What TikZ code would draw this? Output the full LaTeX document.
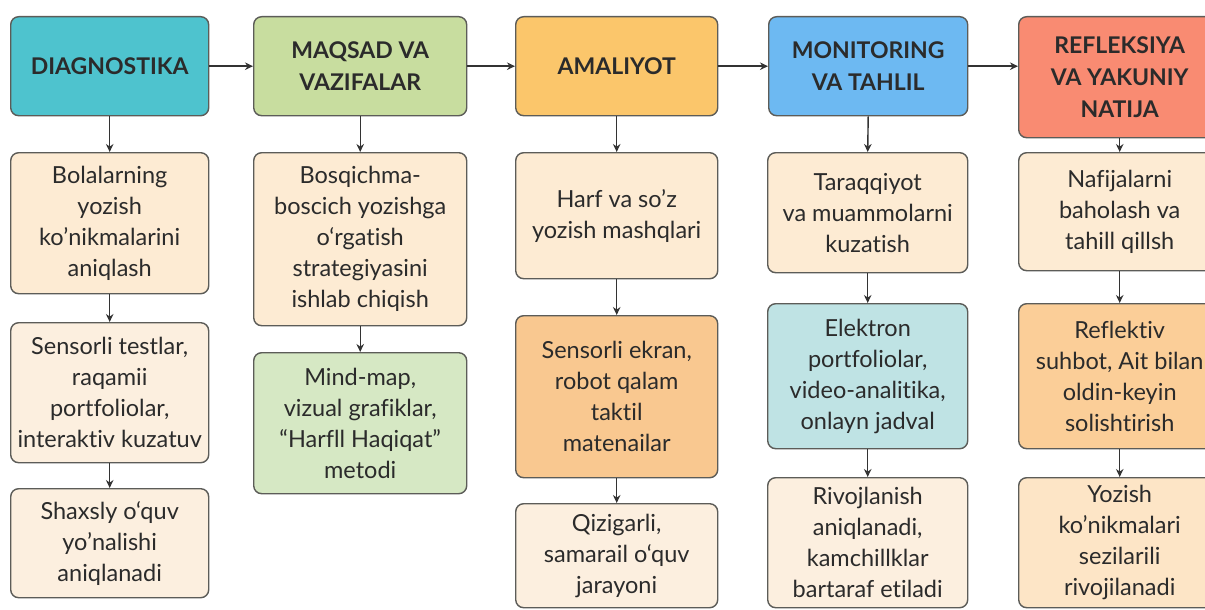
\documentclass[tikz,border=0pt]{standalone}
\usepackage{fontspec}
\setmainfont{Lato}[Ligatures=NoCommon]
\usetikzlibrary{arrows.meta}
\definecolor{bordc}{HTML}{5C5C58}
\definecolor{arrc}{HTML}{333333}
\definecolor{txtc}{HTML}{2B2B2B}
\definecolor{hteal}{HTML}{4EC3CE}
\definecolor{hgreen}{HTML}{C8DD9F}
\definecolor{horange}{HTML}{FBC66B}
\definecolor{hblue}{HTML}{6DB9F2}
\definecolor{hsalmon}{HTML}{F98B72}
\definecolor{cream}{HTML}{FDEBD3}
\definecolor{creamlt}{HTML}{FCEFDF}
\definecolor{lgreen}{HTML}{D6E8C4}
\definecolor{lorange}{HTML}{F9C890}
\definecolor{lteal}{HTML}{BFE3E4}
\definecolor{lpeach}{HTML}{FBCE98}
\definecolor{peachlt}{HTML}{FDE5C6}
\tikzset{
  basebox/.style={draw=bordc, line width=1.4pt, rounded corners=8pt, align=center,
    anchor=north west, inner sep=0pt, text=txtc},
  headbox/.style={basebox, font=\fontsize{23}{32}\selectfont\bfseries},
  bodybox/.style={basebox, font=\fontsize{23.5}{31}\selectfont},
  conn/.style={draw=arrc, line width=1.4pt, -{Stealth[length=8pt,width=7.5pt]}}
}
\begin{document}
\begin{tikzpicture}[x=1pt,y=-1pt]
\useasboundingbox (0,0) rectangle (1205,610);
\clip (0,0) rectangle (1205,610);
\fill[white] (0,0) rectangle (1205,610);
% headers
\node[headbox, fill=hteal, minimum width=198pt, minimum height=99pt] (h1) at (10,16) {DIAGNOSTIKA};
\node[headbox, fill=hgreen, minimum width=213pt, minimum height=99pt] (h2) at (253,16) {MAQSAD VA\\VAZIFALAR};
\node[headbox, fill=horange, minimum width=202pt, minimum height=99pt] (h3) at (515,16) {AMALIYOT};
\node[headbox, fill=hblue, minimum width=199pt, minimum height=99pt] (h4) at (768,16) {MONITORING\\VA TAHLIL};
\node[headbox, fill=hsalmon, minimum width=202pt, minimum height=121pt] (h5) at (1018,16) {REFLEKSIYA\\VA YAKUNIY\\NATIJA};
% column 1
\node[bodybox, fill=cream, minimum width=198pt, minimum height=141pt] (a1) at (10,152) {Bolalarning\\yozish\\ko’nikmalarini\\aniqlash};
\node[bodybox, fill=creamlt, minimum width=198pt, minimum height=140pt] (a2) at (10,322) {Sensorli testlar,\\raqamii\\portfoliolar,\\interaktiv kuzatuv};
\node[bodybox, fill=creamlt, minimum width=198pt, minimum height=109pt] (a3) at (10,488) {Shaxsly o‘quv\\yo’nalishi\\aniqlanadi};
% column 2
\node[bodybox, fill=cream, minimum width=213pt, minimum height=173pt] (b1) at (253,152) {Bosqichma-\\boscich yozishga\\o‘rgatish\\strategiyasini\\ishlab chiqish};
\node[bodybox, fill=lgreen, minimum width=213pt, minimum height=141pt] (b2) at (253,352) {Mind-map,\\vizual grafiklar,\\“Harfll Haqiqat”\\metodi};
% column 3
\node[bodybox, fill=cream, minimum width=202pt, minimum height=126pt] (c1) at (515,152) {Harf va so’z\\yozish mashqlari};
\node[bodybox, fill=lorange, minimum width=202pt, minimum height=162pt] (c2) at (515,315) {Sensorli ekran,\\robot qalam\\taktil\\matenailar};
\node[bodybox, fill=creamlt, minimum width=202pt, minimum height=104pt] (c3) at (515,503) {Qizigarli,\\samarail o‘quv\\jarayoni};
% column 4
\node[bodybox, fill=cream, minimum width=200pt, minimum height=120pt] (d1) at (767,152) {Taraqqiyot\\va muammolarni\\kuzatish};
\node[bodybox, fill=lteal, minimum width=200pt, minimum height=145pt] (d2) at (767,303) {Elektron\\portfoliolar,\\video-analitika,\\onlayn jadval};
\node[bodybox, fill=creamlt, minimum width=200pt, minimum height=130pt] (d3) at (767,477) {Rivojlanish\\aniqlanadi,\\kamchillklar\\bartaraf etiladi};
% column 5
\node[bodybox, fill=cream, minimum width=202pt, minimum height=118pt] (e1) at (1018,152) {Nafijalarni\\baholash va\\tahill qillsh};
\node[bodybox, fill=lpeach, minimum width=202pt, minimum height=145pt] (e2) at (1018,303) {Reflektiv\\suhbot, Ait bilan\\oldin-keyin\\solishtirish};
\node[bodybox, fill=peachlt, minimum width=202pt, minimum height=130pt] (e3) at (1018,477) {Yozish\\ko’nikmalari\\sezilarili\\rivojilanadi};
% horizontal connectors
\draw[conn] (h1.east) -- (h2.west);
\draw[conn] (h2.east) -- (h3.west);
\draw[conn] (h3.east) -- (h4.west);
\draw[conn] (h4.east) -- (h4.east -| h5.west);
% vertical connectors
\draw[conn] (h1.south) -- (a1.north);
\draw[conn] (a1.south) -- (a2.north);
\draw[conn] (a2.south) -- (a3.north);
\draw[conn] (h2.south) -- (b1.north);
\draw[conn] (b1.south) -- (b2.north);
\draw[conn] (h3.south) -- (c1.north);
\draw[conn] (c1.south) -- (c2.north);
\draw[conn] (c2.south) -- (c3.north);
\draw[conn] (h4.south) -- (d1.north);
\draw[conn] (d1.south) -- (d2.north);
\draw[conn] (d2.south) -- (d3.north);
\draw[conn] (h5.south) -- (e1.north);
\draw[conn] (e1.south) -- (e2.north);
\draw[conn] (e2.south) -- (e3.north);
\end{tikzpicture}
\end{document}
